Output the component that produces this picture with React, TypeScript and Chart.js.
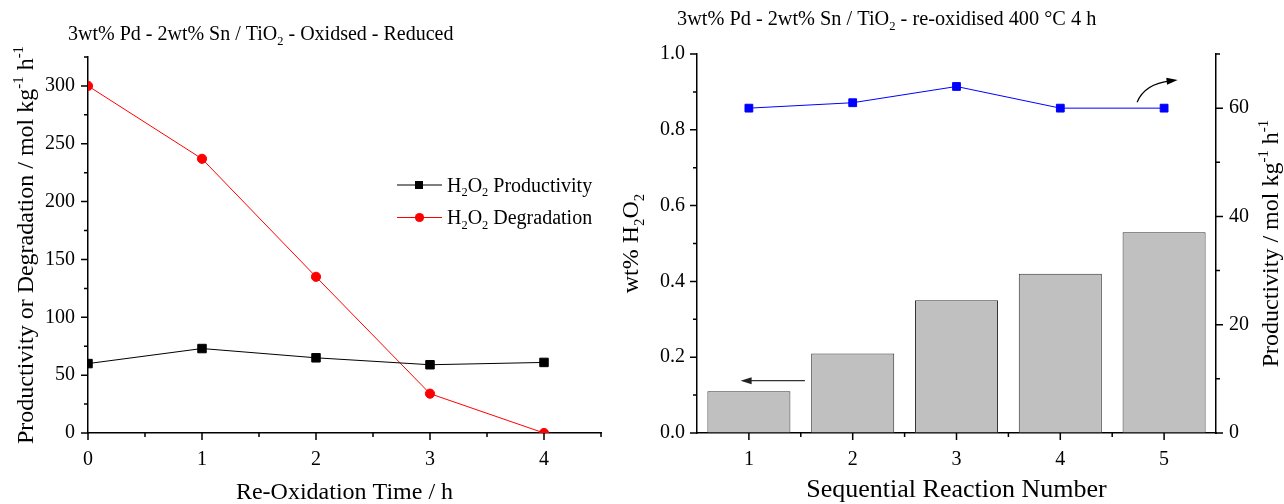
import React, { useEffect, useRef } from 'react';
import { Chart, registerables } from 'chart.js';

Chart.register(...registerables);

const FONT = 'Liberation Serif';

// ---- Left panel data ----
const oxidationTimes = [0, 1, 2, 3, 4];
const h2o2Productivity = [60, 73, 65, 59, 61];
const h2o2Degradation = [300, 237, 135, 34, 0];
const leftXTicks = [0, 1, 2, 3, 4];
const leftXMinor = [0.5, 1.5, 2.5, 3.5, 4.5];
const leftYTicks = [0, 50, 100, 150, 200, 250, 300];
const leftYMinor = [25, 75, 125, 175, 225, 275, 325];

// ---- Right panel data ----
const reactionNumbers = ['1', '2', '3', '4', '5'];
const wtPercentH2O2 = [0.11, 0.21, 0.35, 0.42, 0.53];
const reactionProductivity = [60, 61, 64, 60, 60];
const wtTicks = [0, 0.2, 0.4, 0.6, 0.8, 1.0];
const wtMinor = [0.1, 0.3, 0.5, 0.7, 0.9];
const prodTicks = [0, 20, 40, 60];
const prodMinor = [10, 30, 50, 70];

type Seg = { t: string; s?: 'sub' | 'sup' };

const TICK_SIZE = 20;
const AXIS_TITLE_SIZE = 24;
const TITLE_SIZE = 20;
const LEGEND_SIZE = 20;

const LEFT_W = 615;
const RIGHT_X = 610;
const RIGHT_W = 1284 - RIGHT_X;
const H = 504;

function drawRich(
  ctx: CanvasRenderingContext2D,
  segs: Seg[],
  x: number,
  y: number,
  size: number,
  align: 'left' | 'center',
  rot = 0
) {
  ctx.save();
  ctx.translate(x, y);
  ctx.rotate(rot);
  ctx.textBaseline = 'alphabetic';
  ctx.textAlign = 'left';
  ctx.fillStyle = '#000';
  const fontFor = (g: Seg) => `${g.s ? size * 0.62 : size}px "${FONT}"`;
  const widths = segs.map((g) => {
    ctx.font = fontFor(g);
    return ctx.measureText(g.t).width;
  });
  const total = widths.reduce((a, b) => a + b, 0);
  let cx = align === 'center' ? -total / 2 : 0;
  segs.forEach((g, i) => {
    ctx.font = fontFor(g);
    const dy = g.s === 'sub' ? size * 0.24 : g.s === 'sup' ? -size * 0.42 : 0;
    ctx.fillText(g.t, cx, dy);
    cx += widths[i];
  });
  ctx.restore();
}

function tickLines(
  ctx: CanvasRenderingContext2D,
  scale: any,
  pixels: number[],
  len: number,
  side: 'bottom' | 'left' | 'right'
) {
  ctx.save();
  ctx.strokeStyle = '#000';
  ctx.lineWidth = 1.5;
  ctx.beginPath();
  pixels.forEach((p) => {
    if (side === 'bottom') {
      ctx.moveTo(p, scale.top);
      ctx.lineTo(p, scale.top + len);
    } else if (side === 'left') {
      ctx.moveTo(scale.right, p);
      ctx.lineTo(scale.right - len, p);
    } else {
      ctx.moveTo(scale.left, p);
      ctx.lineTo(scale.left + len, p);
    }
  });
  ctx.stroke();
  ctx.restore();
}

function arrowHead(ctx: CanvasRenderingContext2D, tipX: number, tipY: number, ang: number, len: number, half: number) {
  ctx.beginPath();
  ctx.moveTo(tipX, tipY);
  ctx.lineTo(tipX - len * Math.cos(ang) + half * Math.sin(ang), tipY - len * Math.sin(ang) - half * Math.cos(ang));
  ctx.lineTo(tipX - len * Math.cos(ang) - half * Math.sin(ang), tipY - len * Math.sin(ang) + half * Math.cos(ang));
  ctx.closePath();
  ctx.fill();
}

const tickFont = { family: FONT, size: TICK_SIZE };

const leftDecor = {
  id: 'leftDecor',
  afterDraw(chart: any) {
    const ctx: CanvasRenderingContext2D = chart.ctx;
    const xs = chart.scales.x;
    const ys = chart.scales.y;
    tickLines(ctx, xs, leftXTicks.map((v) => xs.getPixelForValue(v)), 7, 'bottom');
    tickLines(ctx, xs, leftXMinor.map((v) => xs.getPixelForValue(v)), 4, 'bottom');
    tickLines(ctx, ys, leftYTicks.map((v) => ys.getPixelForValue(v)), 7, 'left');
    tickLines(ctx, ys, leftYMinor.map((v) => ys.getPixelForValue(v)), 4, 'left');

    const ca = chart.chartArea;
    drawRich(ctx, [{ t: '3wt% Pd - 2wt% Sn / TiO' }, { t: '2', s: 'sub' }, { t: ' - Oxidsed - Reduced' }], 68, 40, TITLE_SIZE, 'left');
    drawRich(ctx, [{ t: 'Re-Oxidation Time / h' }], (ca.left + ca.right) / 2, 499, AXIS_TITLE_SIZE, 'center');
    drawRich(
      ctx,
      [{ t: 'Productivity or Degradation / mol kg' }, { t: '-1', s: 'sup' }, { t: ' h' }, { t: '-1', s: 'sup' }],
      33,
      (ca.top + ca.bottom) / 2,
      AXIS_TITLE_SIZE,
      'center',
      -Math.PI / 2
    );

    // legend
    const items = [
      { color: '#000000', shape: 'rect', y: 185, label: ' Productivity' },
      { color: '#ff0000', shape: 'circle', y: 217.5, label: ' Degradation' },
    ];
    items.forEach((it) => {
      ctx.save();
      ctx.strokeStyle = it.color;
      ctx.fillStyle = it.color;
      ctx.lineWidth = 1;
      ctx.beginPath();
      ctx.moveTo(397, it.y);
      ctx.lineTo(442, it.y);
      ctx.stroke();
      if (it.shape === 'rect') {
        ctx.fillRect(415, it.y - 4, 8, 8);
      } else {
        ctx.beginPath();
        ctx.arc(419.5, it.y, 4.6, 0, Math.PI * 2);
        ctx.fill();
      }
      ctx.restore();
      drawRich(ctx, [{ t: 'H' }, { t: '2', s: 'sub' }, { t: 'O' }, { t: '2', s: 'sub' }, { t: it.label }], 447, it.y + 6.5, LEGEND_SIZE, 'left');
    });
  },
};

const rightDecor = {
  id: 'rightDecor',
  afterDraw(chart: any) {
    const ctx: CanvasRenderingContext2D = chart.ctx;
    const xs = chart.scales.x;
    const ys = chart.scales.y;
    const y1 = chart.scales.y1;
    const centers = reactionNumbers.map((_, i) => xs.getPixelForValue(i));
    const mids: number[] = [];
    for (let i = 0; i < centers.length - 1; i++) mids.push((centers[i] + centers[i + 1]) / 2);
    tickLines(ctx, xs, centers, 7, 'bottom');
    tickLines(ctx, xs, mids, 4, 'bottom');
    tickLines(ctx, ys, wtTicks.map((v) => ys.getPixelForValue(v)), 7, 'left');
    tickLines(ctx, ys, wtMinor.map((v) => ys.getPixelForValue(v)), 4, 'left');
    tickLines(ctx, y1, prodTicks.map((v) => y1.getPixelForValue(v)), 7, 'right');
    tickLines(ctx, y1, prodMinor.map((v) => y1.getPixelForValue(v)), 4, 'right');

    const ca = chart.chartArea;
    drawRich(ctx, [{ t: '3wt% Pd - 2wt% Sn / TiO' }, { t: '2', s: 'sub' }, { t: ' - re-oxidised 400 °C 4 h' }], 677 - RIGHT_X, 25, TITLE_SIZE + 0.3, 'left');
    drawRich(ctx, [{ t: 'Sequential Reaction Number' }], (ca.left + ca.right) / 2, 497, AXIS_TITLE_SIZE + 2, 'center');
    drawRich(
      ctx,
      [{ t: 'wt% H' }, { t: '2', s: 'sub' }, { t: 'O' }, { t: '2', s: 'sub' }],
      638 - RIGHT_X,
      (ca.top + ca.bottom) / 2,
      AXIS_TITLE_SIZE,
      'center',
      -Math.PI / 2
    );
    drawRich(
      ctx,
      [{ t: 'Productivity / mol kg' }, { t: '-1', s: 'sup' }, { t: ' h' }, { t: '-1', s: 'sup' }],
      1278 - RIGHT_X,
      (ca.top + ca.bottom) / 2,
      AXIS_TITLE_SIZE,
      'center',
      -Math.PI / 2
    );

    // straight arrow pointing to the left axis
    ctx.save();
    ctx.strokeStyle = '#333';
    ctx.fillStyle = '#222';
    ctx.lineWidth = 1.3;
    const ay = ys.getPixelForValue(0.138);
    const ax0 = xs.getPixelForValue(0.54);
    const ax1 = xs.getPixelForValue(-0.08);
    ctx.beginPath();
    ctx.moveTo(ax0, ay);
    ctx.lineTo(ax1 + 8, ay);
    ctx.stroke();
    arrowHead(ctx, ax1, ay, Math.PI, 11, 3.5);

    // curved arrow pointing to the right axis
    const sx = xs.getPixelForValue(3.74);
    const sy = y1.getPixelForValue(61.1);
    const cx = xs.getPixelForValue(3.81);
    const cy = y1.getPixelForValue(64.5);
    const ex = xs.getPixelForValue(4.13);
    const ey = y1.getPixelForValue(65.2);
    const ang = Math.atan2(ey - cy, ex - cx);
    ctx.strokeStyle = '#000';
    ctx.fillStyle = '#000';
    ctx.lineWidth = 1.2;
    ctx.beginPath();
    ctx.moveTo(sx, sy);
    ctx.quadraticCurveTo(cx, cy, ex - 7 * Math.cos(ang), ey - 7 * Math.sin(ang));
    ctx.stroke();
    arrowHead(ctx, ex, ey, ang, 11, 3.5);
    ctx.restore();
  },
};

export default function App() {
  const leftRef = useRef<HTMLCanvasElement>(null);
  const rightRef = useRef<HTMLCanvasElement>(null);

  useEffect(() => {
    const left = new Chart(leftRef.current as HTMLCanvasElement, {
      type: 'line',
      data: {
        datasets: [
          {
            label: 'H2O2 Productivity',
            data: oxidationTimes.map((t, i) => ({ x: t, y: h2o2Productivity[i] })),
            borderColor: '#000000',
            backgroundColor: '#000000',
            borderWidth: 1,
            pointStyle: 'rect',
            pointRadius: 6,
            pointBorderWidth: 1,
          },
          {
            label: 'H2O2 Degradation',
            data: oxidationTimes.map((t, i) => ({ x: t, y: h2o2Degradation[i] })),
            borderColor: '#ff0000',
            backgroundColor: '#ff0000',
            borderWidth: 1,
            pointStyle: 'circle',
            pointRadius: 4.6,
            pointBorderWidth: 1,
          },
        ],
      },
      options: {
        animation: false,
        responsive: false,
        layout: { padding: { top: 57, right: LEFT_W - 601, left: 0, bottom: 0 } },
        plugins: { legend: { display: false }, tooltip: { enabled: false }, title: { display: false } },
        scales: {
          x: {
            type: 'linear',
            min: 0,
            max: 4.5,
            grid: { display: false, drawTicks: false, tickLength: 0 },
            border: { display: true, color: '#000', width: 1.5 },
            ticks: { font: tickFont, color: '#000', padding: 15, maxRotation: 0 },
            afterBuildTicks: (s: any) => {
              s.ticks = leftXTicks.map((v) => ({ value: v }));
            },
            afterFit: (s: any) => {
              s.height = H - 433;
            },
          },
          y: {
            type: 'linear',
            min: 0,
            max: 325,
            grid: { display: false, drawTicks: false, tickLength: 0 },
            border: { display: true, color: '#000', width: 1.5 },
            ticks: { font: tickFont, color: '#000', padding: 13 },
            afterBuildTicks: (s: any) => {
              s.ticks = leftYTicks.map((v) => ({ value: v }));
            },
            afterFit: (s: any) => {
              s.width = 88;
            },
          },
        },
      } as any,
      plugins: [leftDecor],
    });

    const right = new Chart(rightRef.current as HTMLCanvasElement, {
      type: 'bar',
      data: {
        labels: reactionNumbers,
        datasets: [
          {
            type: 'line',
            label: 'Productivity',
            data: reactionProductivity,
            yAxisID: 'y1',
            borderColor: '#0000ff',
            backgroundColor: '#0000ff',
            borderWidth: 1,
            pointStyle: 'rect',
            pointRadius: 5.5,
            pointBorderWidth: 1,
            order: 0,
          },
          {
            type: 'bar',
            label: 'wt% H2O2',
            data: wtPercentH2O2,
            yAxisID: 'y',
            backgroundColor: '#c0c0c0',
            borderColor: '#333333',
            borderWidth: 1,
            borderSkipped: false,
            barPercentage: 0.8,
            categoryPercentage: 1,
            order: 1,
          },
        ],
      } as any,
      options: {
        animation: false,
        responsive: false,
        layout: { padding: { top: 54, right: 0, left: 0, bottom: 0 } },
        plugins: { legend: { display: false }, tooltip: { enabled: false }, title: { display: false } },
        scales: {
          x: {
            type: 'category',
            offset: true,
            grid: { display: false, drawTicks: false, tickLength: 0, offset: true },
            border: { display: true, color: '#000', width: 1.5 },
            ticks: { font: tickFont, color: '#000', padding: 15, maxRotation: 0 },
            afterFit: (s: any) => {
              s.height = H - 433;
            },
          },
          y: {
            type: 'linear',
            position: 'left',
            min: 0,
            max: 1,
            grid: { display: false, drawTicks: false, tickLength: 0 },
            border: { display: true, color: '#000', width: 1.5 },
            ticks: { font: tickFont, color: '#000', padding: 12, callback: (v: any) => Number(v).toFixed(1) },
            afterBuildTicks: (s: any) => {
              s.ticks = wtTicks.map((v) => ({ value: v }));
            },
            afterFit: (s: any) => {
              s.width = 697 - RIGHT_X;
            },
          },
          y1: {
            type: 'linear',
            position: 'right',
            min: 0,
            max: 70,
            grid: { display: false, drawTicks: false, tickLength: 0 },
            border: { display: true, color: '#000', width: 1.5 },
            ticks: { font: tickFont, color: '#000', padding: 13 },
            afterBuildTicks: (s: any) => {
              s.ticks = prodTicks.map((v) => ({ value: v }));
            },
            afterFit: (s: any) => {
              s.width = 1284 - 1216;
            },
          },
        },
      } as any,
      plugins: [rightDecor],
    });

    return () => {
      left.destroy();
      right.destroy();
    };
  }, []);

  return (
    <div style={{ position: 'absolute', left: 0, top: 0, width: 1284, height: H, background: '#fff' }}>
      <canvas
        ref={leftRef}
        width={LEFT_W}
        height={H}
        style={{ position: 'absolute', left: 0, top: 0, width: LEFT_W, height: H, display: 'block' }}
      />
      <canvas
        ref={rightRef}
        width={RIGHT_W}
        height={H}
        style={{ position: 'absolute', left: RIGHT_X, top: 0, width: RIGHT_W, height: H, display: 'block' }}
      />
    </div>
  );
}
